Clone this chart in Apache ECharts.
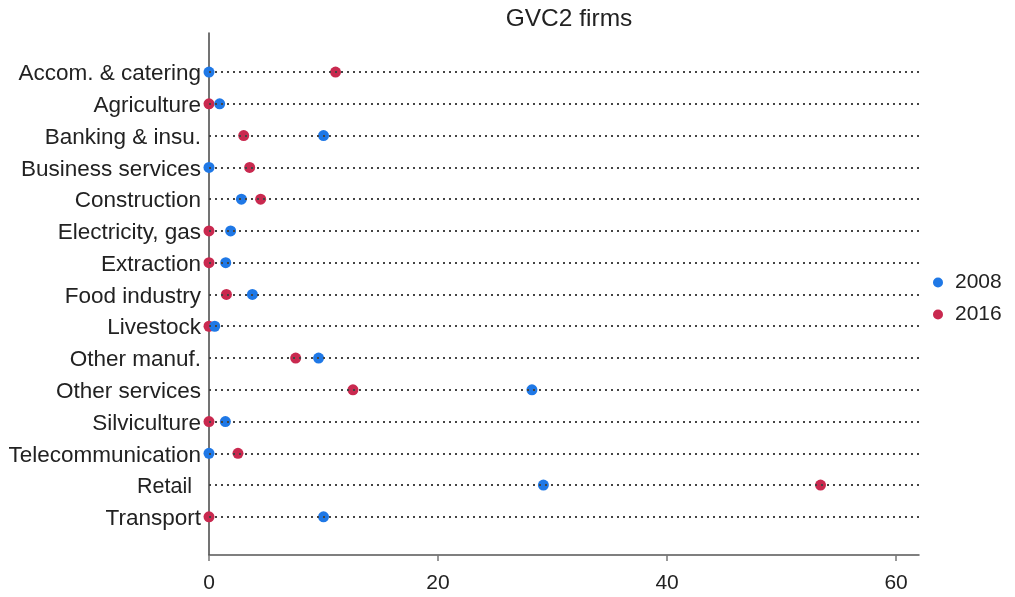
<!DOCTYPE html>
<html>
<head>
<meta charset="utf-8">
<script src="https://cdn.jsdelivr.net/npm/echarts@6/dist/echarts.min.js"></script>
<style>
html,body{margin:0;padding:0;background:#fff;}
#chart{width:1015px;height:597px;}
</style>
</head>
<body>
<div id="chart"></div>
<script>
const categories = ["Accom. & catering","Agriculture","Banking & insu.","Business services","Construction","Electricity, gas","Extraction","Food industry","Livestock","Other manuf.","Other services","Silviculture","Telecommunication","Retail","Transport"];
const values2008 = [0, 0.93, 10.0, 0, 2.83, 1.89, 1.46, 3.79, 0.5, 9.57, 28.2, 1.43, 0, 29.2, 10.0];
const values2016 = [11.05, 0, 3.03, 3.55, 4.51, 0, 0, 1.52, 0, 7.57, 12.57, 0, 2.53, 53.4, 0];
const xTicks = [0, 20, 40, 60];

const FONT = '"Liberation Sans", Arial, sans-serif';
const chart = echarts.init(document.getElementById('chart'));
const idx = categories.map((c, i) => i);

chart.setOption({
  animation: false,
  backgroundColor: '#fff',
  title: {
    text: 'GVC2 firms',
    left: 564, top: 2, textAlign: 'center',
    textStyle: {fontFamily: FONT, fontSize: 24.5, fontWeight: 'normal', color: '#222'}
  },
  legend: {
    orient: 'vertical', left: 928, top: 267,
    icon: 'circle', itemWidth: 24, itemHeight: 10, itemGap: 11,
    data: ['2008', '2016'],
    textStyle: {fontFamily: FONT, fontSize: 21, color: '#222'}
  },
  grid: {left: 209, right: 96, top: 33, bottom: 42},
  xAxis: {
    type: 'value', min: 0, max: 62,
    axisLine: {show: true, onZero: false, lineStyle: {color: '#555', width: 1.5}},
    axisTick: {show: true, customValues: xTicks, length: 6, lineStyle: {color: '#777', width: 1.5}},
    axisLabel: {customValues: xTicks, fontFamily: FONT, fontSize: 21, color: '#222', margin: 18},
    splitLine: {show: false}
  },
  yAxis: {
    type: 'value', inverse: true, min: -1.23, max: 15.2,
    axisLine: {show: true, onZero: false, lineStyle: {color: '#444', width: 1.5}},
    axisTick: {show: false},
    splitLine: {show: false},
    axisLabel: {
      customValues: idx, margin: 8, padding: [4, 0, 0, 0],
      fontFamily: FONT, fontSize: 22.5, color: '#222',
      formatter: v => {
        const name = categories[Math.round(v)];
        return name === 'Retail' ? '{r|' + name + '}' : name;
      },
      rich: {r: {fontFamily: FONT, fontSize: 21.5, color: '#222', padding: [0, 9, 0, 0]}}
    }
  },
  series: [
    {
      name: '2016', type: 'scatter', symbol: 'circle', symbolSize: 11, z: 3,
      itemStyle: {color: '#c9294f', opacity: 1},
      data: values2016.map((v, i) => [v, i]),
      markLine: {
        silent: true, symbol: 'none', label: {show: false},
        lineStyle: {color: '#444', width: 2.2, type: [2, 4], opacity: 1},
        data: idx.map(i => ({yAxis: i}))
      }
    },
    {
      name: '2008', type: 'scatter', symbol: 'circle', symbolSize: 11, z: 4,
      itemStyle: {color: '#1f78e6', opacity: 1},
      data: values2008.map((v, i) => [v, i])
    }
  ]
});
</script>
</body>
</html>
